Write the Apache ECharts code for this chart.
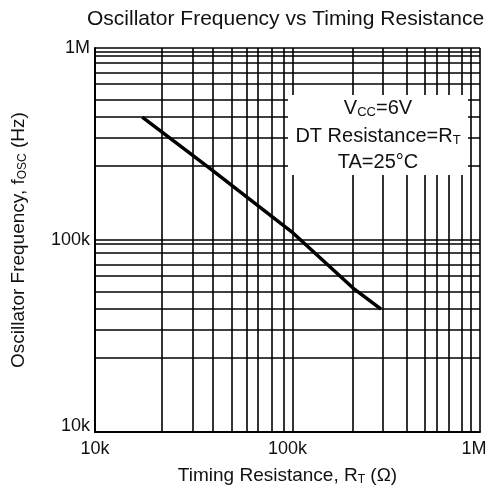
<!DOCTYPE html>
<html>
<head>
<meta charset="utf-8">
<script src="https://cdn.jsdelivr.net/npm/echarts@6/dist/echarts.min.js"></script>
<style>
  html, body { margin: 0; padding: 0; background: #fff; }
  #container { width: 490px; height: 493px; }
</style>
</head>
<body>
<div id="container"></div>
<script>
// curve (ohm, Hz)
var rtValues = [17600, 39500, 106800, 219000, 306000];
var foscValues = [436000, 236000, 108800, 56200, 43700];

// grid lines as drawn in the original (not a clean log grid)
var xGridLines = [22300, 32300, 41000, 51500, 61700, 70000, 83000, 95800, 106800,
    219000, 313000, 418000, 518000, 598000, 690000, 806000, 898000, 1000000];
var yGridLines = [1000000, 953000, 908000, 835000, 741000, 649000, 539000, 437000, 340000, 244000,
    100000, 95300, 85500, 74100, 64900, 53900, 43700, 34000, 24400];

var tickLabels = { 10000: '10k', 100000: '100k', 1000000: '1M' };

var FONT = 'Liberation Sans';

var chart = echarts.init(document.getElementById('container'));

var gridMarks = [];
xGridLines.forEach(function (v) { gridMarks.push({ xAxis: v }); });
yGridLines.forEach(function (v) { gridMarks.push({ yAxis: v }); });

var rich = {
    a: { fontFamily: FONT, fontSize: 20, fill: '#111' },
    s: { fontFamily: FONT, fontSize: 13, fill: '#111', padding: [8, 0, 0, 0] }
};

var option = {
    animation: false,
    backgroundColor: '#fff',
    title: {
        text: 'Oscillator Frequency vs Timing Resistance',
        left: 82,
        top: 4,
        textStyle: { fontFamily: FONT, fontSize: 21, fontWeight: 'normal', color: '#111' }
    },
    grid: { left: 95, right: 10, top: 48, bottom: 61, containLabel: false, outerBoundsMode: 'none' },
    xAxis: {
        type: 'log',
        logBase: 10,
        min: 10000,
        max: 1000000,
        name: '{a|Timing Resistance, R}{s|T}{a| (Ω)}',
        nameLocation: 'middle',
        nameGap: 34,
        nameTextStyle: {
            rich: {
                a: { fontFamily: FONT, fontSize: 19, color: '#111' },
                s: { fontFamily: FONT, fontSize: 12, color: '#111', verticalAlign: 'bottom', padding: [8, 0, 0, 0] }
            }
        },
        axisLine: { show: true, lineStyle: { color: '#000', width: 2 } },
        axisTick: { show: false },
        splitLine: { show: false },
        axisLabel: {
            margin: 8,
            fontFamily: FONT,
            fontSize: 18,
            color: '#111',
            formatter: function (v) {
                if (v >= 999999) return '{m|1M}';
                return tickLabels[Math.round(v)] || '';
            },
            rich: {
                m: { fontFamily: FONT, fontSize: 18, color: '#111', padding: [0, 12, 0, 0] }
            }
        }
    },
    yAxis: {
        type: 'log',
        logBase: 10,
        min: 10000,
        max: 1000000,
        name: '{a|Oscillator Frequency, f}{s|OSC}{a| (Hz)}',
        nameLocation: 'middle',
        nameGap: 66,
        nameTextStyle: {
            rich: {
                a: { fontFamily: FONT, fontSize: 19, color: '#111' },
                s: { fontFamily: FONT, fontSize: 12, color: '#111', verticalAlign: 'bottom', padding: [8, 0, 0, 0] }
            }
        },
        axisLine: { show: true, lineStyle: { color: '#000', width: 2 } },
        axisTick: { show: false },
        splitLine: { show: false },
        axisLabel: {
            margin: 5,
            fontFamily: FONT,
            fontSize: 18,
            color: '#111',
            formatter: function (v) {
                var t = tickLabels[Math.round(v)] || '';
                return Math.round(v) === 10000 ? '{b|' + t + '}' : t;
            },
            rich: {
                b: { fontFamily: FONT, fontSize: 18, color: '#111', padding: [0, 0, 12, 0] }
            }
        }
    },
    series: [{
        name: 'grid',
        type: 'line',
        data: [],
        z: 1,
        silent: true,
        markLine: {
            silent: true,
            animation: false,
            symbol: 'none',
            label: { show: false },
            emphasis: { disabled: true },
            lineStyle: { type: 'solid', color: '#000', width: 1.6 },
            data: gridMarks
        }
    }, {
        name: 'fosc',
        type: 'line',
        z: 5,
        showSymbol: false,
        lineStyle: { color: '#000', width: 3.5 },
        data: rtValues.map(function (r, i) { return [r, foscValues[i]]; })
    }],
    graphic: [{
        type: 'rect',
        z: 100,
        shape: { x: 288, y: 95, width: 180, height: 80 },
        style: { fill: '#fff' }
    }, {
        type: 'text',
        z: 101,
        x: 378, y: 108,
        style: { text: '{a|V}{s|CC}{a|=6V}', align: 'center', verticalAlign: 'middle', rich: rich }
    }, {
        type: 'text',
        z: 101,
        x: 378, y: 136,
        style: { text: '{a|DT Resistance=R}{s|T}', align: 'center', verticalAlign: 'middle', rich: rich }
    }, {
        type: 'text',
        z: 101,
        x: 378, y: 162,
        style: {
            text: 'TA=25°C', align: 'center', verticalAlign: 'middle',
            fontFamily: FONT, fontSize: 20, fill: '#111'
        }
    }]
};

chart.setOption(option);
</script>
</body>
</html>
